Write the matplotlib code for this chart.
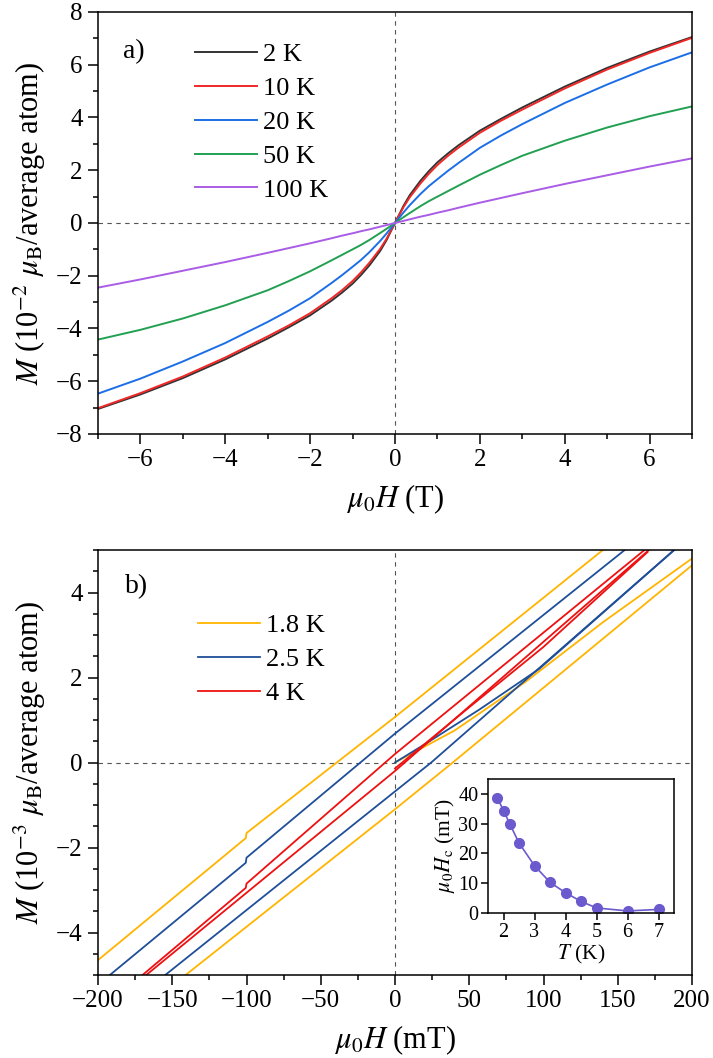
import numpy as np
import matplotlib
matplotlib.use("Agg")
import matplotlib.pyplot as plt
from matplotlib.ticker import MultipleLocator

plt.rcParams['font.family'] = ['Liberation Serif', 'DejaVu Serif']
plt.rcParams['mathtext.fontset'] = 'stix'

# ---------------- Panel a data (positive field half; curves are antisymmetric) ----
H_a = [0, 0.1, 0.2, 0.35, 0.6, 0.8, 1.0, 1.25, 1.5, 2.0, 2.5, 3.0, 4.0, 5.0, 6.0, 7.0]
M_2K = [0, 0.32, 0.65, 1.06, 1.6, 1.97, 2.3, 2.64, 2.95, 3.5, 3.95, 4.38, 5.17, 5.88, 6.5, 7.05]
M_10K = [0, 0.30, 0.60, 0.98, 1.5, 1.87, 2.2, 2.55, 2.86, 3.42, 3.88, 4.3, 5.1, 5.82, 6.45, 7.02]
M_20K = [0, 0.20, 0.40, 0.68, 1.1, 1.4, 1.66, 1.98, 2.28, 2.85, 3.32, 3.75, 4.55, 5.25, 5.9, 6.47]
M_50K = [0, 0.11, 0.22, 0.38, 0.64, 0.83, 1.0, 1.21, 1.42, 1.83, 2.2, 2.55, 3.12, 3.62, 4.05, 4.42]
M_100K = [0, 0.04, 0.08, 0.14, 0.24, 0.31, 0.39, 0.48, 0.58, 0.77, 0.95, 1.13, 1.48, 1.81, 2.14, 2.45]
labels_a = ['2 K', '10 K', '20 K', '50 K', '100 K']
colors_a = ['#333333', '#f02828', '#1c6ee6', '#22a052', '#a95ce6']

# ---------------- Panel b data (mT, 10^-3 muB) ----------------
# 1.8 K
H18_up = [-200, -100.5, -100, 0, 140, 200]
M18_up = [-4.65, -1.78, -1.66, 1.07, 5.0, 6.7]
H18_lo = [-200, -141, 0, 38.9, 200]
M18_lo = [-6.65, -5.0, -1.1, 0.0, 4.64]
H18_vi = [0, 40, 88, 140, 200]
M18_vi = [0.0, 0.75, 1.9, 3.3, 4.8]
# 2.5 K
H25_up = [-192, -100.5, -100, 0, 154.7, 200]
M25_up = [-5.0, -2.36, -2.24, 0.68, 5.0, 6.3]
H25_lo = [-200, -154.7, 0, 24.4, 188]
M25_lo = [-6.3, -5.0, -0.68, 0.0, 5.0]
H25_vi = [0, 21, 57, 97, 188]
M25_vi = [0.0, 0.45, 1.25, 2.2, 5.0]
# 4 K
H4_up = [-170, -100.5, -100, 0, 168]
M4_up = [-5.0, -2.95, -2.85, 0.2, 5.0]
H4_lo = [-167.5, 0, 171]
M4_lo = [-5.0, -0.2, 5.0]
H4_vi = [0, 50, 100, 170]
M4_vi = [-0.14, 1.3, 2.72, 4.95]
labels_b = ['1.8 K', '2.5 K', '4 K']
colors_b = ['#ffb400', '#1f4f98', '#ee1111']

# ---------------- Inset data ----------------
T_in = [1.8, 2.0, 2.2, 2.5, 3.0, 3.5, 4.0, 4.5, 5.0, 6.0, 7.0]
Hc_in = [38.7, 34.4, 30.0, 23.5, 15.9, 10.3, 6.8, 3.9, 1.7, 0.7, 1.2]

fig = plt.figure(figsize=(7.13, 10.58), dpi=100)

TICK_FS = 18
LAB_FS = 22
LEG_FS = 19

def style(ax, fs=TICK_FS):
    ax.tick_params(which='both', direction='out', top=False, right=False, labelsize=fs)
    ax.tick_params(which='major', length=7, width=1.1, pad=4)
    ax.tick_params(which='minor', length=3.5, width=1.1)
    for s in ax.spines.values():
        s.set_linewidth(1.1)

# ---- panel a
axa = fig.add_axes([98/713, 1-434/1058, (692-98)/713, (434-12)/1058])
Ha = np.array(H_a)
Hfull = np.concatenate([-Ha[::-1], Ha[1:]])
for M, lab, c in zip([M_2K, M_10K, M_20K, M_50K, M_100K], labels_a, colors_a):
    Ma = np.array(M)
    Mfull = np.concatenate([-Ma[::-1], Ma[1:]])
    axa.plot(Hfull, Mfull, color=c, lw=1.4, label=lab)
axa.axhline(0, color='#555555', ls=(0, (4, 4)), lw=0.8, zorder=0)
axa.axvline(0, color='#555555', ls=(0, (4, 4)), lw=0.8, zorder=0)
axa.set_xlim(-7, 7)
axa.set_ylim(-8, 8)
axa.xaxis.set_major_locator(MultipleLocator(2))
axa.xaxis.set_minor_locator(MultipleLocator(1))
axa.yaxis.set_major_locator(MultipleLocator(2))
axa.yaxis.set_minor_locator(MultipleLocator(1))
style(axa)
axa.set_xlabel(r'$\mu_0H$ (T)', fontsize=LAB_FS, labelpad=8)
axa.set_ylabel(r'$M$ (10$^{-2}$ $\mu_\mathrm{B}$/average atom)', fontsize=LAB_FS, labelpad=6)
axa.text(0.042, 0.905, 'a)', transform=axa.transAxes, fontsize=20, va='center')
axa.legend(loc='upper left', bbox_to_anchor=(0.163, 0.9265), frameon=False, fontsize=LEG_FS,
           handlelength=2.35, handletextpad=0.25, labelspacing=0.39, borderaxespad=0,
           borderpad=0)

# ---- panel b
axb = fig.add_axes([98/713, 1-975/1058, (692-98)/713, (975-550)/1058])
branches = [
    [(H18_up, M18_up), (H18_lo, M18_lo), (H18_vi, M18_vi)],
    [(H25_up, M25_up), (H25_lo, M25_lo), (H25_vi, M25_vi)],
    [(H4_up, M4_up), (H4_lo, M4_lo), (H4_vi, M4_vi)],
]
for br, lab, c in zip(branches, labels_b, colors_b):
    for i, (h, m) in enumerate(br):
        axb.plot(h, m, color=c, lw=1.3, label=lab if i == 0 else None)
axb.axhline(0, color='#555555', ls=(0, (4, 4)), lw=0.8, zorder=0)
axb.axvline(0, color='#555555', ls=(0, (4, 4)), lw=0.8, zorder=0)
axb.set_xlim(-200, 200)
axb.set_ylim(-5, 5)
axb.xaxis.set_major_locator(MultipleLocator(50))
axb.xaxis.set_minor_locator(MultipleLocator(25))
axb.yaxis.set_major_locator(MultipleLocator(2))
axb.yaxis.set_minor_locator(MultipleLocator(0.5))
style(axb)
axb.set_xlabel(r'$\mu_0H$ (mT)', fontsize=LAB_FS, labelpad=8)
axb.set_ylabel(r'$M$ (10$^{-3}$ $\mu_\mathrm{B}$/average atom)', fontsize=LAB_FS, labelpad=6)
axb.text(0.045, 0.913, 'b)', transform=axb.transAxes, fontsize=20, va='center')
axb.legend(loc='upper left', bbox_to_anchor=(0.168, 0.85), frameon=False, fontsize=LEG_FS,
           handlelength=2.35, handletextpad=0.25, labelspacing=0.39, borderaxespad=0,
           borderpad=0)

# ---- inset
axi = fig.add_axes([488/713, 1-913/1058, (674-488)/713, (913-779)/1058])
axi.plot(T_in, Hc_in, color='#6a5acd', lw=1.2, marker='o', ms=7)
axi.set_xlim(1.5, 7.5)
axi.set_ylim(0, 45)
axi.xaxis.set_major_locator(MultipleLocator(1))
axi.yaxis.set_major_locator(MultipleLocator(10))
style(axi, fs=14.5)
axi.tick_params(which='major', length=5, pad=2)
axi.set_xlabel(r'$T$ (K)', fontsize=15.5, labelpad=1)
axi.set_ylabel(r'$\mu_0H_\mathrm{c}$ (mT)', fontsize=15.5, labelpad=1)

fig.savefig('out.png', dpi=100)
